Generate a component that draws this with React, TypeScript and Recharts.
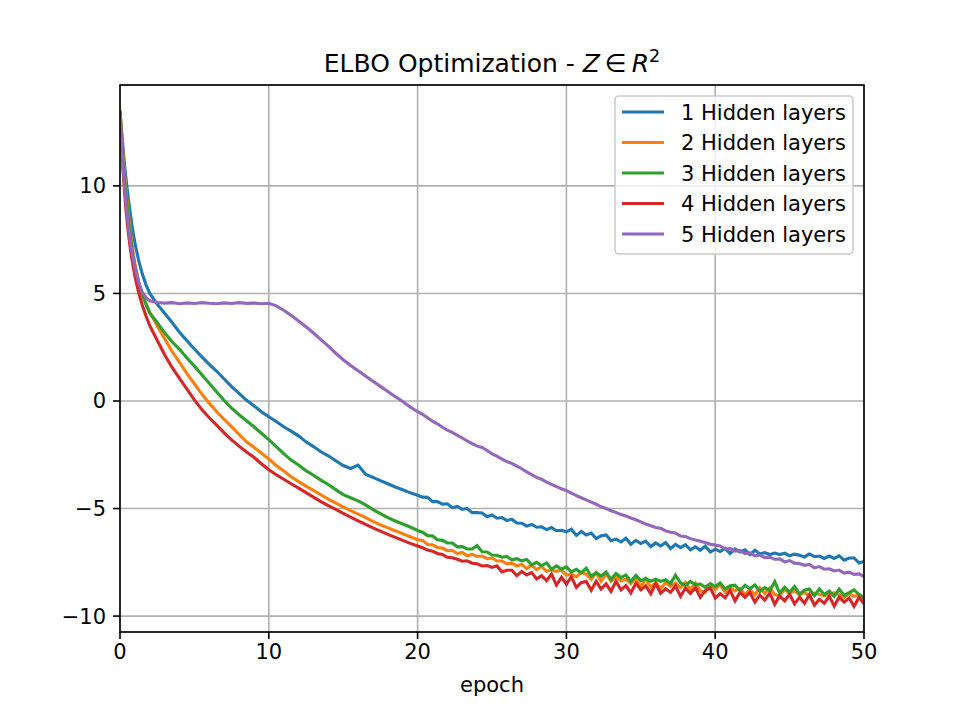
import React from "react";
import { LineChart, Line, XAxis, YAxis, CartesianGrid } from "recharts";

// epochs: fine steps at the start, then 0.5, then thirds of an epoch where the curves get noisy
const epochs = [
  0, 0.1, 0.2, 0.3, 0.4, 0.5, 0.6, 0.7, 0.8, 0.9, 1, 1.25, 1.5, 1.75, 2,
  2.5, 3, 3.5, 4, 4.5, 5, 5.5, 6, 6.5, 7,
  7.5, 8, 8.5, 9, 9.5, 10, 10.5, 11, 11.5, 12,
  12.5, 13, 13.5, 14, 14.5, 15, 15.5, 16, 16.5, 17,
  17.5, 18, 18.5, 19, 19.5, 20,
  20.33, 20.67, 21, 21.33, 21.67, 22, 22.33, 22.67, 23, 23.33, 23.67, 24,
  24.33, 24.67, 25, 25.33, 25.67, 26, 26.33, 26.67, 27, 27.33, 27.67, 28,
  28.33, 28.67, 29, 29.33, 29.67, 30, 30.33, 30.67, 31, 31.33, 31.67, 32,
  32.33, 32.67, 33, 33.33, 33.67, 34, 34.33, 34.67, 35, 35.33, 35.67, 36,
  36.33, 36.67, 37, 37.33, 37.67, 38, 38.33, 38.67, 39, 39.33, 39.67, 40,
  40.33, 40.67, 41, 41.33, 41.67, 42, 42.33, 42.67, 43, 43.33, 43.67, 44,
  44.33, 44.67, 45, 45.33, 45.67, 46, 46.33, 46.67, 47, 47.33, 47.67, 48,
  48.33, 48.67, 49, 49.33, 49.67, 50,
];

const oneLayer = [
  13.4, 12.6, 11.8, 11.0, 10.35, 9.75, 9.2, 8.7, 8.2, 7.75, 7.35, 6.55, 5.9, 5.4, 5.0,
  4.5, 4.08, 3.65, 3.2, 2.8, 2.42, 2.05, 1.7, 1.38, 1.02,
  0.67, 0.35, 0.03, -0.22, -0.5, -0.73, -0.95, -1.2, -1.4, -1.62,
  -1.9, -2.12, -2.36, -2.55, -2.78, -3.0, -3.14, -2.98, -3.4, -3.55,
  -3.7, -3.85, -4.0, -4.13, -4.27, -4.38,
  -4.47, -4.48, -4.68, -4.68, -4.8, -4.78, -4.96, -4.9, -5.04, -5.0, -5.19, -5.19,
  -5.21, -5.38, -5.3, -5.45, -5.42, -5.56, -5.5, -5.67, -5.68, -5.82, -5.74, -5.87,
  -5.85, -5.98, -5.88, -6.03, -6.01, -6.08, -5.96, -6.25, -6.07, -6.23, -6.14, -6.4,
  -6.27, -6.23, -6.5, -6.42, -6.55, -6.38, -6.66, -6.48, -6.63, -6.52, -6.77, -6.6,
  -6.74, -6.58, -6.86, -6.67, -6.82, -6.68, -6.92, -6.78, -6.94, -6.75, -7.02, -6.89,
  -7.0, -6.85, -7.09, -6.88, -7.02, -6.92, -7.14, -6.94, -7.11, -7.05, -7.14, -7.07,
  -7.14, -7.08, -7.2, -7.12, -7.17, -7.25, -7.11, -7.24, -7.21, -7.32, -7.21, -7.32,
  -7.2, -7.4, -7.3, -7.3, -7.53, -7.46,
];

const twoLayers = [
  13.55, 12.5, 11.5, 10.6, 9.85, 9.15, 8.5, 7.9, 7.35, 6.85, 6.4, 5.55, 4.92, 4.55, 4.12,
  3.5, 2.9, 2.3, 1.8, 1.27, 0.8, 0.32, -0.1, -0.5, -0.86,
  -1.19, -1.55, -1.9, -2.15, -2.42, -2.7, -3.0, -3.25, -3.52, -3.75,
  -3.96, -4.16, -4.36, -4.56, -4.75, -4.92, -5.1, -5.26, -5.42, -5.6,
  -5.76, -5.9, -6.03, -6.17, -6.31, -6.45,
  -6.48, -6.67, -6.68, -6.81, -6.84, -6.96, -6.95, -7.09, -7.04, -7.2, -7.13, -7.23,
  -7.21, -7.33, -7.3, -7.44, -7.44, -7.57, -7.54, -7.67, -7.59, -7.79, -7.63, -7.84,
  -7.69, -7.92, -7.85, -7.92, -7.87, -8.09, -8.06, -8.17, -7.98, -8.05, -8.29, -7.98,
  -8.37, -8.03, -8.38, -8.15, -8.37, -8.28, -8.49, -8.23, -8.64, -8.26, -8.66, -8.44,
  -8.72, -8.44, -8.62, -8.46, -8.68, -8.44, -8.76, -8.46, -8.84, -8.89, -8.55, -8.76,
  -8.55, -8.89, -8.66, -8.83, -8.71, -9.0, -8.77, -9.01, -8.68, -8.95, -8.69, -9.0,
  -9.05, -8.77, -8.96, -8.81, -9.02, -8.89, -9.08, -8.93, -9.0, -9.05, -9.0, -8.91,
  -9.0, -9.13, -8.96, -9.09, -9.0, -9.16,
];

const threeLayers = [
  13.5, 12.4, 11.3, 10.4, 9.6, 8.9, 8.25, 7.65, 7.1, 6.65, 6.25, 5.5, 4.95, 4.48, 4.08,
  3.65, 3.17, 2.75, 2.4, 2.0, 1.62, 1.22, 0.82, 0.42, 0.02,
  -0.33, -0.64, -0.92, -1.2, -1.5, -1.8, -2.12, -2.45, -2.75, -2.98,
  -3.24, -3.45, -3.68, -3.88, -4.12, -4.35, -4.5, -4.64, -4.83, -5.05,
  -5.24, -5.42, -5.58, -5.72, -5.86, -6.02,
  -6.1, -6.26, -6.27, -6.45, -6.48, -6.6, -6.6, -6.78, -6.77, -6.88, -6.88, -6.72,
  -7.01, -7.02, -7.16, -7.17, -7.26, -7.23, -7.38, -7.33, -7.43, -7.37, -7.62, -7.5,
  -7.66, -7.53, -7.82, -7.67, -7.82, -7.71, -7.95, -7.83, -7.99, -7.77, -8.15, -7.98,
  -8.14, -7.95, -8.3, -8.02, -8.21, -8.09, -8.39, -8.11, -8.35, -8.26, -8.38, -8.28,
  -8.39, -8.31, -8.49, -8.1, -8.46, -8.57, -8.39, -8.55, -8.51, -8.66, -8.49, -8.63,
  -8.46, -8.74, -8.59, -8.56, -8.82, -8.57, -8.73, -8.55, -8.86, -8.68, -8.82, -8.4,
  -8.93, -8.66, -8.89, -8.63, -8.97, -8.8, -8.74, -9.05, -8.74, -9.0, -8.84, -9.08,
  -8.75, -9.04, -8.91, -8.78, -9.0, -9.18,
];

const fourLayers = [
  13.4, 12.0, 10.75, 9.75, 8.9, 8.2, 7.6, 7.05, 6.6, 6.2, 5.8, 5.05, 4.45, 3.95, 3.5,
  2.82, 2.15, 1.56, 1.05, 0.55, 0.05, -0.4, -0.78, -1.12, -1.48,
  -1.81, -2.1, -2.37, -2.62, -2.92, -3.2, -3.43, -3.64, -3.85, -4.05,
  -4.26, -4.47, -4.68, -4.86, -5.04, -5.22, -5.4, -5.57, -5.74, -5.9,
  -6.05, -6.2, -6.34, -6.48, -6.62, -6.74,
  -6.82, -6.93, -6.98, -7.09, -7.14, -7.27, -7.29, -7.36, -7.45, -7.43, -7.54, -7.57,
  -7.67, -7.65, -7.74, -7.66, -7.95, -7.87, -7.87, -8.12, -7.93, -8.09, -7.98, -8.27,
  -8.12, -8.35, -8.05, -8.56, -8.2, -8.52, -8.18, -8.67, -8.45, -8.38, -8.8, -8.38,
  -8.74, -8.51, -8.85, -8.38, -8.78, -8.58, -8.92, -8.47, -8.78, -8.59, -8.96, -8.49,
  -8.94, -8.73, -8.9, -8.6, -9.08, -8.7, -8.95, -8.68, -9.13, -8.82, -8.69, -9.16,
  -8.96, -9.15, -8.8, -9.29, -8.89, -9.13, -8.9, -9.35, -9.02, -9.26, -8.93, -9.45,
  -9.06, -9.29, -8.99, -9.43, -9.12, -9.4, -9.01, -9.49, -9.22, -9.4, -9.08, -9.54,
  -9.12, -9.35, -9.16, -9.55, -9.12, -9.43,
];

const fiveLayers = [
  13.3, 12.1, 10.9, 9.95, 9.2, 8.5, 7.9, 7.4, 6.95, 6.55, 6.2, 5.5, 5.05, 4.8, 4.66,
  4.58, 4.55, 4.57, 4.52, 4.56, 4.53, 4.57, 4.54, 4.52, 4.56,
  4.53, 4.57, 4.54, 4.55, 4.52, 4.54, 4.42, 4.22, 3.98, 3.72,
  3.45, 3.16, 2.85, 2.55, 2.22, 1.92, 1.65, 1.4, 1.16, 0.92,
  0.68, 0.44, 0.2, -0.02, -0.28, -0.5,
  -0.62, -0.78, -0.94, -1.06, -1.22, -1.36, -1.46, -1.6, -1.72, -1.86, -1.98, -2.1,
  -2.16, -2.3, -2.46, -2.56, -2.7, -2.82, -2.9, -3.03, -3.15, -3.3, -3.42, -3.55,
  -3.64, -3.77, -3.88, -3.98, -4.08, -4.17, -4.28, -4.4, -4.5, -4.6, -4.7, -4.8,
  -4.92, -5.0, -5.1, -5.18, -5.28, -5.35, -5.44, -5.52, -5.62, -5.72, -5.8, -5.88,
  -5.92, -6.04, -6.1, -6.14, -6.28, -6.3, -6.4, -6.46, -6.52, -6.58, -6.66, -6.7,
  -6.74, -6.88, -6.86, -6.98, -6.96, -7.1, -7.06, -7.2, -7.16, -7.28, -7.26, -7.36,
  -7.34, -7.48, -7.42, -7.54, -7.56, -7.64, -7.6, -7.76, -7.7, -7.82, -7.8, -7.9,
  -7.86, -8.0, -7.96, -8.06, -8.04, -8.16,
];

const seriesNames = ["1 Hidden layers", "2 Hidden layers", "3 Hidden layers", "4 Hidden layers", "5 Hidden layers"];
const seriesColors = ["#1f77b4", "#ff7f0e", "#2ca02c", "#d62728", "#9467bd"];
const seriesValues = [oneLayer, twoLayers, threeLayers, fourLayers, fiveLayers];

const xTicks = [0, 10, 20, 30, 40, 50];
const yTicks = [-10, -5, 0, 5, 10];

const data = epochs.map((epoch, i) => {
  const row: Record<string, number> = { epoch };
  seriesValues.forEach((vals, k) => {
    row["s" + k] = vals[i];
  });
  return row;
});

const fmt = (v: number) => (v < 0 ? "\u2212" + Math.abs(v) : String(v));

const font = "DejaVu Sans";

export default function App() {
  return (
    <div style={{ position: "absolute", left: 0, top: 0, width: 960, height: 710, background: "#fff" }}>
      <LineChart width={960} height={710} data={data} margin={{ top: 85, right: 96, bottom: 38, left: 60 }}>
        <CartesianGrid stroke="#b0b0b0" strokeWidth={1.6} />
        <XAxis
          dataKey="epoch"
          type="number"
          domain={[0, 50]}
          ticks={xTicks}
          height={40}
          axisLine={false}
          tickSize={7}
          tickMargin={5}
          tickLine={{ stroke: "#000", strokeWidth: 1.6 }}
          tick={{ fill: "#000", fontSize: 21, fontFamily: font }}
          allowDataOverflow
        />
        <YAxis
          type="number"
          domain={[-10.74, 14.69]}
          ticks={yTicks}
          width={60}
          axisLine={false}
          tickSize={7}
          tickMargin={7}
          tickFormatter={fmt}
          tickLine={{ stroke: "#000", strokeWidth: 1.6 }}
          tick={{ fill: "#000", fontSize: 21, fontFamily: font }}
          allowDataOverflow
        />
        {seriesNames.map((name, k) => (
          <Line
            key={name}
            name={name}
            dataKey={"s" + k}
            type="linear"
            stroke={seriesColors[k]}
            strokeWidth={3.1}
            dot={false}
            activeDot={false}
            isAnimationActive={false}
          />
        ))}
      </LineChart>
      <svg
        width={960}
        height={710}
        style={{ position: "absolute", left: 0, top: 0, pointerEvents: "none" }}
        fontFamily={font}
      >
        <rect x={120} y={85} width={744} height={547} fill="none" stroke="#000" strokeWidth={1.6} />
        <text x={492} y={72} textAnchor="middle" fontSize={25} fill="#000">
          ELBO Optimization -{" "}
          <tspan fontStyle="italic">Z</tspan>
          <tspan>{"\u2009\u2208\u2009"}</tspan>
          <tspan fontStyle="italic">R</tspan>
          <tspan fontSize={17.5} dy={-10}>2</tspan>
        </text>
        <text x={492} y={692} textAnchor="middle" fontSize={21} fill="#000">
          epoch
        </text>
        <rect x={615} y={96} width={238} height={158} rx={4} fill="#fff" fillOpacity={0.8} stroke="#cccccc" strokeWidth={1.6} />
        {seriesNames.map((name, k) => {
          const cy = 112 + k * 30.5;
          return (
            <g key={name}>
              <line x1={622} x2={664} y1={cy} y2={cy} stroke={seriesColors[k]} strokeWidth={3.1} />
              <text x={681} y={cy + 7.6} fontSize={21} fill="#000">
                {name}
              </text>
            </g>
          );
        })}
      </svg>
    </div>
  );
}
